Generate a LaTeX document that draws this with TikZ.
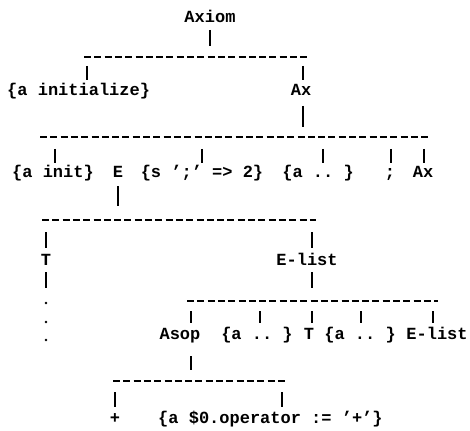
\documentclass[tikz,border=0pt]{standalone}
\usepackage{fontspec}
\setmonofont{Liberation Mono}
\begin{document}
\begin{tikzpicture}[x=1pt,y=-1pt,
  lbl/.style={font=\ttfamily\bfseries\fontsize{17}{17}\selectfont, inner sep=0pt, anchor=base},
  bar/.style={line width=1.2pt},
  rule/.style={line width=1.3pt, dash pattern=on 7pt off 3.3pt},
  dotmark/.style={circle, fill, inner sep=0pt, minimum size=2.8pt}]
\useasboundingbox (0,0) rectangle (470,430);

% level 0
\node[lbl] (axiom) at (210,23) {Axiom};
\draw[bar] (210,30) -- (210,46);
\draw[rule] (84,57) -- (307,57);

% level 1
\draw[bar] (87,66) -- (87,80);
\draw[bar] (303,66) -- (303,80);
\node[lbl, anchor=base west] (ainit) at (7,96) {\{a initialize\}};
\node[lbl] (ax1) at (301,96) {Ax};
\draw[bar] (303,106) -- (303,127);
\draw[rule] (40,137) -- (428,137);

% level 2
\draw[bar] (55,149) -- (55,163);
\draw[bar] (202,149) -- (202,163);
\draw[bar] (323,149) -- (323,163);
\draw[bar] (391,149) -- (391,163);
\draw[bar] (424,149) -- (424,163);
\node[lbl] (init) at (53,178) {\{a init\}};
\node[lbl] (e) at (118,178) {E};
\node[lbl] (semi) at (202,178) {\{s ’;’ => 2\}};
\node[lbl] (act1) at (318,178) {\{a .. \}};
\node[lbl] (sc) at (390,178) {;};
\node[lbl] (ax2) at (423,178) {Ax};
\draw[bar] (118,186) -- (118,206);
\draw[rule] (42,220) -- (316,220);

% level 3
\draw[bar] (46,232) -- (46,248);
\draw[bar] (312,232) -- (312,248);
\node[lbl] (t1) at (46,265) {T};
\node[lbl] (el1) at (307,265) {E-list};
\draw[bar] (46,272) -- (46,288);
\draw[bar] (312,272) -- (312,288);
\node[dotmark] (d1) at (46,303) {};
\node[dotmark] (d2) at (46,322) {};
\node[dotmark] (d3) at (46,340) {};
\draw[rule] (187,301) -- (438,301);

% level 4
\draw[bar] (191,311) -- (191,323);
\draw[bar] (260,311) -- (260,323);
\draw[bar] (312,311) -- (312,323);
\draw[bar] (361,311) -- (361,323);
\draw[bar] (433,311) -- (433,323);
\node[lbl] (asop) at (180,339) {Asop};
\node[lbl] (act2) at (257,339) {\{a .. \}};
\node[lbl] (t2) at (309,339) {T};
\node[lbl] (act3) at (360,339) {\{a .. \}};
\node[lbl] (el2) at (437,339) {E-list};
\draw[bar] (191,356) -- (191,370);
\draw[rule] (113,381) -- (288,381);

% level 5
\draw[bar] (115,392) -- (115,407);
\draw[bar] (282,392) -- (282,407);
\node[lbl] (plus) at (115,423) {+};
\node[lbl, anchor=base west] (op) at (158,423) {\{a \$0.operator := ’+’\}};
\end{tikzpicture}
\end{document}
